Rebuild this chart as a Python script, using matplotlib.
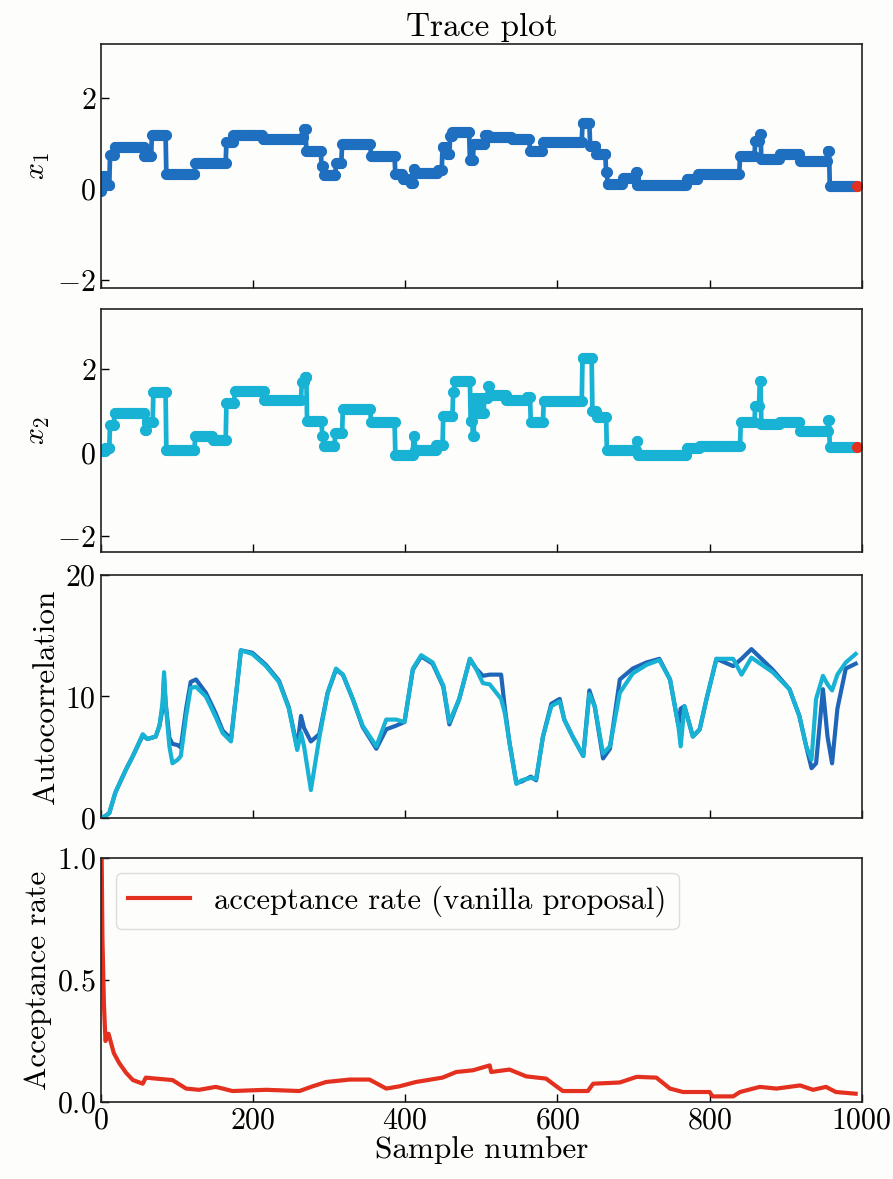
import numpy as np
import matplotlib
matplotlib.use("Agg")
import matplotlib.pyplot as plt

# Configuración general
plt.rcParams['font.family'] = 'serif'
plt.rcParams['font.serif'] = ['cmr10']
plt.rcParams['mathtext.fontset'] = 'cm'
plt.rcParams['axes.formatter.use_mathtext'] = True
plt.rcParams['font.size'] = 21.5

N_MUESTRAS = 995

# Cadena x1: muestra donde empieza cada tramo y valor del tramo
X1_INICIOS = [0, 1, 3, 6, 12, 18, 57, 67, 86, 124, 165, 174, 213, 265, 267, 270,
              290, 293, 309, 317, 355, 387, 397, 407, 411, 413, 443, 449, 455, 459,
              462, 485, 490, 505, 510, 540, 564, 581, 633, 643, 651, 664, 666, 686,
              703, 705, 770, 785, 840, 860, 866, 868, 892, 919, 955, 958]
X1_VALORES = [-0.05, 0.1, 0.3, 0.1, 0.75, 0.93, 0.73, 1.2, 0.33, 0.58, 1.05, 1.2,
              1.1, 1.15, 1.33, 0.85, 0.52, 0.32, 0.58, 1.0, 0.72, 0.33, 0.22, 0.13,
              0.44, 0.36, 0.42, 0.93, 0.77, 1.17, 1.25, 0.65, 1.0, 1.2, 1.14, 1.1,
              0.83, 1.05, 1.45, 0.95, 0.78, 0.37, 0.12, 0.24, 0.37, 0.09, 0.22, 0.33,
              0.72, 1.07, 1.22, 0.67, 0.78, 0.63, 0.84, 0.08]

# Cadena x2
X2_INICIOS = [0, 6, 12, 18, 58, 60, 69, 86, 124, 147, 165, 176, 215, 264, 268, 271,
              291, 293, 308, 318, 355, 387, 411, 413, 441, 450, 463, 465, 486, 489,
              491, 495, 498, 501, 504, 509, 511, 533, 560, 565, 582, 633, 646, 652,
              665, 704, 706, 770, 787, 841, 860, 866, 868, 892, 919, 956, 958]
X2_VALORES = [0.03, 0.12, 0.67, 0.95, 0.55, 0.73, 1.45, 0.07, 0.41, 0.31, 1.19,
              1.47, 1.27, 1.68, 1.82, 0.75, 0.39, 0.15, 0.47, 1.05, 0.73, -0.05,
              0.39, 0.07, 0.19, 0.87, 1.45, 1.71, 0.75, 0.39, 1.31, 0.96, 1.31, 0.96,
              1.31, 1.59, 1.37, 1.27, 1.34, 0.73, 1.23, 2.27, 1.0, 0.86, 0.06, 0.27,
              -0.05, 0.11, 0.15, 0.73, 1.12, 1.72, 0.69, 0.73, 0.51, 0.77, 0.13]

# Autocorrelación
AC_MUESTRAS = [0, 2, 11, 19, 33, 42, 55, 61, 72, 77, 81, 83, 85, 90, 94, 101, 105,
               112, 118, 125, 138, 151, 160, 171, 177, 184, 199, 217, 234, 247, 258,
               263, 267, 276, 287, 298, 309, 318, 331, 344, 362, 375, 388, 399, 410,
               421, 436, 450, 458, 471, 485, 493, 502, 511, 526, 531, 537, 546, 553,
               559, 565, 572, 581, 592, 603, 609, 620, 634, 642, 649, 660, 669, 682,
               699, 717, 734, 748, 759, 762, 767, 778, 787, 796, 809, 831, 842, 855,
               883, 905, 918, 927, 934, 940, 949, 955, 961, 968, 979, 992]
AC_X1 = [0.0, 0.0, 0.4, 2.1, 4.0, 5.1, 6.8, 6.5, 6.7, 7.6, 9.0, 11.5, 9.5, 6.6,
         6.1, 6.0, 5.8, 9.0, 11.2, 11.4, 10.3, 8.6, 7.2, 6.5, 9.8, 13.8, 13.6, 12.6,
         11.3, 9.1, 5.8, 8.4, 7.4, 6.3, 6.9, 10.3, 12.2, 11.8, 9.8, 7.5, 5.7, 7.3,
         7.6, 7.9, 12.2, 13.3, 12.7, 10.8, 7.7, 9.8, 13.1, 12.3, 11.7, 11.8, 11.8,
         9.0, 6.2, 2.9, 3.0, 3.2, 3.4, 3.1, 6.7, 9.4, 9.8, 8.1, 6.7, 5.1, 10.5, 9.2,
         4.9, 5.7, 11.4, 12.3, 12.8, 13.1, 11.4, 7.6, 9.0, 9.2, 6.7, 7.3, 9.8, 13.1,
         12.5, 13.1, 13.9, 12.2, 10.6, 8.4, 5.9, 4.1, 4.5, 10.6, 6.7, 4.5, 9.0, 12.3,
         12.7]
AC_X2 = [0.0, 0.0, 0.4, 2.1, 4.0, 5.1, 6.9, 6.5, 6.7, 7.6, 9.5, 12.0, 9.5, 5.9,
         4.5, 4.8, 5.1, 8.4, 10.7, 10.8, 10.0, 8.3, 7.0, 6.3, 9.8, 13.8, 13.5, 12.5,
         11.2, 9.0, 5.6, 7.0, 5.9, 2.3, 6.6, 10.3, 12.3, 11.8, 9.8, 7.6, 5.9, 8.1,
         8.1, 7.9, 12.3, 13.4, 12.8, 10.9, 7.9, 9.8, 13.1, 12.3, 11.1, 11.0, 9.8,
         8.6, 6.2, 2.8, 3.1, 3.2, 3.3, 3.2, 6.7, 9.2, 9.6, 8.1, 6.7, 5.1, 10.2, 9.2,
         5.3, 5.9, 10.3, 11.9, 12.6, 13.0, 11.4, 7.6, 5.9, 9.2, 6.7, 7.3, 9.8, 13.1,
         13.1, 11.8, 13.2, 12.0, 10.6, 8.4, 5.9, 4.8, 9.8, 11.7, 11.0, 10.5, 11.8,
         12.8, 13.5]

# Tasa de aceptación
TA_MUESTRAS = [0, 1, 2, 4, 6, 10, 17, 24, 33, 42, 55, 59, 72, 94, 112, 129, 151,
               173, 217, 261, 278, 296, 327, 353, 375, 392, 414, 449, 467, 489, 511,
               513, 537, 559, 585, 607, 640, 647, 682, 704, 730, 748, 765, 800, 804,
               831, 840, 866, 888, 919, 936, 953, 966, 992]
TA_VALORES = [1.0, 1.0, 0.67, 0.40, 0.25, 0.28, 0.20, 0.16, 0.12, 0.09, 0.075, 0.10,
              0.096, 0.09, 0.055, 0.05, 0.062, 0.045, 0.05, 0.045, 0.064, 0.082,
              0.092, 0.092, 0.055, 0.064, 0.082, 0.10, 0.123, 0.13, 0.15, 0.123, 0.133,
              0.105, 0.096, 0.045, 0.045, 0.075, 0.08, 0.103, 0.10, 0.055, 0.041,
              0.041, 0.023, 0.023, 0.041, 0.062, 0.055, 0.068, 0.05, 0.062, 0.041,
              0.034]

COLOR_X1 = '#1f6fc0'
COLOR_X2 = '#17b2d4'
COLOR_ROJO = '#e3301f'
FONDO = '#fdfdfb'


# Reconstruir la cadena completa a partir de los tramos
def expandir(inicios, valores, n):
    limites = list(inicios[1:]) + [n]
    repes = np.diff([inicios[0]] + limites)
    return np.repeat(valores, repes)


x1 = expandir(X1_INICIOS, X1_VALORES, N_MUESTRAS)
x2 = expandir(X2_INICIOS, X2_VALORES, N_MUESTRAS)
muestras = np.arange(N_MUESTRAS)

fig = plt.figure(figsize=(8.93, 11.79), dpi=100, facecolor=FONDO)
izq, ancho = 0.113, 0.852
ax1 = fig.add_axes([izq, 0.7557, ancho, 0.2070])
ax2 = fig.add_axes([izq, 0.5318, ancho, 0.2061])
ax3 = fig.add_axes([izq, 0.3062, ancho, 0.2061])
ax4 = fig.add_axes([izq, 0.0653, ancho, 0.2070])

for ax in (ax1, ax2, ax3, ax4):
    ax.set_facecolor(FONDO)
    ax.set_xlim(0, 1000)
    ax.set_xticks([0, 200, 400, 600, 800, 1000])
    ax.tick_params(direction='in', length=6, width=1.0)
    for s in ax.spines.values():
        s.set_linewidth(1.2)
        s.set_color('#222222')

# Trazas
ax1.plot(muestras, x1, 'o-', color=COLOR_X1, lw=3.4, ms=7)
ax1.plot(muestras[-1], x1[-1], 'o', color=COLOR_ROJO, ms=7)
ax1.set_ylim(-2.18, 3.2)
ax1.set_yticks([-2, 0, 2])
ax1.set_ylabel(r'$x_1$')
ax1.set_title('Trace plot', fontsize=24, pad=6)
ax1.tick_params(labelbottom=False)

ax2.plot(muestras, x2, 'o-', color=COLOR_X2, lw=3.4, ms=7)
ax2.plot(muestras[-1], x2[-1], 'o', color=COLOR_ROJO, ms=7)
ax2.set_ylim(-2.38, 3.44)
ax2.set_yticks([-2, 0, 2])
ax2.set_ylabel(r'$x_2$')
ax2.tick_params(labelbottom=False)

# Autocorrelación
ax3.plot(AC_MUESTRAS, AC_X1, color='#1f66b8', lw=3)
ax3.plot(AC_MUESTRAS, AC_X2, color=COLOR_X2, lw=3)
ax3.set_ylim(0, 20)
ax3.set_yticks([0, 10, 20])
ax3.set_ylabel('Autocorrelation', fontsize=22.5)
ax3.tick_params(labelbottom=False)

# Tasa de aceptación
ax4.plot(TA_MUESTRAS, TA_VALORES, color=COLOR_ROJO, lw=3,
         label='acceptance rate (vanilla proposal)')
ax4.set_ylim(0, 1)
ax4.set_yticks([0.0, 0.5, 1.0])
ax4.set_ylabel('Acceptance rate', fontsize=22.5)
ax4.set_xlabel('Sample number', fontsize=22.5, labelpad=1)
ax4.legend(loc='upper left', fontsize=22, frameon=True, fancybox=True,
           facecolor=FONDO, edgecolor='#dddddd', framealpha=1.0)

fig.savefig('out.png', dpi=100, facecolor=FONDO)
